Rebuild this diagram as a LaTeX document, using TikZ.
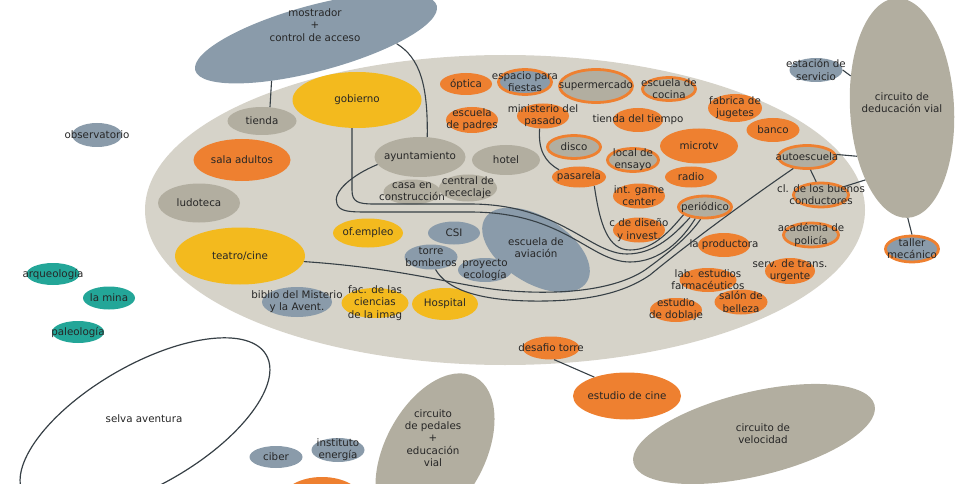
\documentclass[tikz,border=0pt]{standalone}
\usepackage{fontspec}
\setmainfont{DejaVu Sans}
\usetikzlibrary{shapes.geometric}

\definecolor{fondo}{RGB}{214,211,201}
\definecolor{gris}{RGB}{178,174,160}
\definecolor{azul}{RGB}{138,155,170}
\definecolor{naranja}{RGB}{238,128,48}
\definecolor{amarillo}{RGB}{243,186,30}
\definecolor{verde}{RGB}{35,166,152}
\definecolor{linea}{RGB}{55,64,70}
\definecolor{letra}{RGB}{38,38,38}

\tikzset{
  zona/.style={ellipse, inner sep=0pt},
  sz/.style 2 args={minimum width=#1, minimum height=#2},
  txt/.style={text=letra, font=\fontsize{10.3}{12.3}\selectfont, align=center, inner sep=0pt},
  tx/.style={label={[txt]center:#1}},
  gry/.style={zona, fill=gris},
  blu/.style={zona, fill=azul},
  orng/.style={zona, fill=naranja},
  yel/.style={zona, fill=amarillo},
  grn/.style={zona, fill=verde},
  rng/.style={zona, fill=gris, draw=naranja, line width=2.8pt},
  rngbl/.style={rng, fill=azul},
  con/.style={draw=linea, line width=1.1pt},
}

\begin{document}
\begin{tikzpicture}[x=1pt, y=-1pt]
    \useasboundingbox (0,0) rectangle (972,484);
    \clip (0,0) rectangle (972,484);

    % zona central
    \node[zona, fill=fondo, sz={720}{310}] (ciudad) at (505,210) {};

    % grandes zonas
    \node[gry, sz={104}{220}, rotate=3] (deducacion) at (902,108) {};
    \node[txt] (deducaciontxt) at (902,103) {circuito de\\deducación vial};
    \node[blu, sz={250}{66}, rotate=15] (mostrador) at (316,38) {};
    \node[txt] (mostradortxt) at (315,25) {mostrador\\+\\control de acceso};
    \node[gry, sz={248}{84}, rotate=13.5] (velocidad) at (754,434) {};
    \node[txt] (velocidadtxt) at (763,434) {circuito de\\velocidad};
    \node[gry, sz={170}{100}, rotate=62] (pedales) at (435,452) {};
    \node[txt] (pedalestxt) at (433,438) {circuito\\de pedales\\+\\educación\\vial};
    \node[zona, draw=linea, line width=1.2pt, fill=white, sz={280}{120}, rotate=30] (selva) at (145,425) {};
    \node[txt] (selvatxt) at (144,419) {selva aventura};
    \node[blu, sz={120}{66}, rotate=-32] (aviacion) at (536,250) {};
    \node[txt] (aviaciontxt) at (536,248) {escuela de\\aviación};

    % fuera
    \node[blu, sz={50}{24}, tx=observatorio] (obs) at (97,135) {};
    \node[grn, sz={53}{22}, tx=arqueología] (arqueo) at (53,274) {};
    \node[grn, sz={52}{23}, tx=la mina] (mina) at (109,298) {};
    \node[grn, sz={52}{22}, tx=paleología] (paleo) at (78,332) {};
    \node[blu, sz={53}{24}, tx={estación de\\servicio}] (estacion) at (816,70) {};
    \node[rngbl, sz={53}{26}, tx={taller\\mecánico}] (taller) at (912,249) {};
    \node[orng, sz={108}{47}, tx=estudio de cine] (cine) at (627,396) {};
    \node[blu, sz={53}{22}, tx=ciber] (ciber) at (276,457) {};
    \node[blu, sz={53}{24}, tx={instituto\\energía}] (energia) at (338,450) {};
    \node[orng, sz={80}{46}] (recorte) at (322,500) {};

    % izquierda
    \node[gry, sz={69}{28}, tx=tienda] (tienda) at (262,121) {};
    \node[yel, sz={129}{56}, tx=gobierno] (gobierno) at (357,100) {};
    \node[orng, sz={97}{42}, tx=sala adultos] (sala) at (242,160) {};
    \node[gry, sz={82}{39}, tx=ludoteca] (ludoteca) at (199,203) {};
    \node[yel, sz={130}{57}, tx=teatro/cine] (teatro) at (240,256) {};
    \node[yel, sz={67}{30}, tx={fac. de las\\ciencias\\de la imag}] (fac) at (375,303) {};
    \node[blu, sz={70}{30}, tx={biblio del Misterio\\y la Avent.}] (biblio) at (297,302) {};
    \node[yel, sz={66}{32}, tx=Hospital] (hospital) at (445,304) {};

    % centro
    \node[gry, sz={91}{40}, tx=ayuntamiento] (ayunt) at (420,157) {};
    \node[gry, sz={68}{30}, tx=hotel] (hotel) at (506,160) {};
    \node[gry, sz={57}{25}, tx={casa en\\construcción}] (casa) at (412,192) {};
    \node[gry, sz={58}{27}, tx={central de\\receclaje}] (central) at (468,188) {};
    \node[yel, sz={70}{29}, tx=of.empleo] (empleo) at (368,233) {};
    \node[blu, sz={52}{23}, tx=CSI] (csi) at (454,233) {};
    \node[blu, sz={53}{25}, tx={torre\\bomberos}] (torre) at (431,257) {};
    \node[blu, sz={54}{24}, tx={proyecto\\ecología}] (ecologia) at (485,270) {};

    % arriba
    \node[orng, sz={52}{22}, tx=óptica] (optica) at (466,84) {};
    \node[rngbl, sz={53}{25}, tx={espacio para\\fiestas}] (fiestas) at (525,82) {};
    \node[rng, sz={73}{33}, tx=supermercado] (super) at (596,86) {};
    \node[rng, sz={53}{23}, tx={escuela de\\cocina}] (cocina) at (669,89) {};
    \node[orng, sz={54}{28}, tx={fabrica de\\jugetes}] (jugetes) at (735,108) {};
    \node[orng, sz={52}{26}, tx={escuela\\de padres}] (padres) at (472,120) {};
    \node[orng, sz={52}{25}, tx={ministerio del\\pasado}] (ministerio) at (543,116) {};
    \node[orng, sz={50}{24}, tx=tienda del tiempo] (tiempo) at (638,120) {};
    \node[rng, sz={53}{23}, tx=disco] (disco) at (574,147) {};
    \node[orng, sz={78}{35}, tx=microtv] (microtv) at (699,146) {};
    \node[rng, sz={51}{23}, tx={local de\\ensayo}] (ensayo) at (633,160) {};
    \node[orng, sz={54}{21}, tx=pasarela] (pasarela) at (579,177) {};
    \node[orng, sz={52}{21}, tx=radio] (radio) at (691,177) {};
    \node[orng, sz={52}{25}, tx={int. game\\center}] (game) at (639,196) {};
    \node[rng, sz={53}{22}, tx=periódico] (periodico) at (705,207) {};
    \node[orng, sz={52}{25}, tx={c de diseño\\y invest.}] (diseno) at (639,230) {};

    % derecha
    \node[orng, sz={53}{24}, tx=banco] (banco) at (773,130) {};
    \node[rng, sz={57}{23}, tx=autoescuela] (autoesc) at (807,157) {};
    \node[rng, sz={55}{24}, tx={cl. de los buenos\\conductores}] (conduct) at (821,195) {};
    \node[rng, sz={55}{24}, tx={académia de\\policía}] (policia) at (811,235) {};
    \node[orng, sz={50}{26}, tx={serv. de trans.\\urgente}] (urgente) at (790,271) {};
    \node[orng, sz={52}{24}, tx=la productora] (productora) at (724,245) {};
    \node[orng, sz={57}{24}, tx={lab. estudios\\farmacéuticos}] (farma) at (708,280) {};
    \node[orng, sz={52}{24}, tx={estudio\\de doblaje}] (doblaje) at (676,310) {};
    \node[orng, sz={53}{25}, tx={salón de\\belleza}] (belleza) at (741,302) {};
    \node[orng, sz={57}{23}, tx=desafio torre] (desafio) at (551,348) {};

    % conexiones
    \draw[con] (tienda.60) -- (mostrador.209);
    \draw[con] (mostrador.-19) .. controls (420,58) and (428,85) .. (ayunt.70);
    \draw[con] (gobierno.260) -- (352,190) .. controls (352,202) and (358,204) .. (374,204)
        -- (470,204) .. controls (560,204) and (590,254) .. (627,254)
        .. controls (655,254) and (675,234) .. (periodico.215);
    \draw[con] (ayunt.190) .. controls (352,175) and (332,192) .. (337,204)
        .. controls (340,212) and (350,212) .. (370,212) -- (470,212)
        .. controls (565,212) and (590,262) .. (630,262)
        .. controls (660,262) and (682,240) .. (periodico.230);
    \draw[con] (ministerio.255) .. controls (538,150) and (545,162) .. (pasarela.160);
    \draw[con] (pasarela.-30) .. controls (600,225) and (608,250) .. (630,250)
        .. controls (655,250) and (672,228) .. (periodico.200);
    \draw[con] (teatro.-5) .. controls (400,268) and (455,285) .. (500,290)
        .. controls (560,296) and (615,290) .. (645,270)
        .. controls (670,252) and (690,235) .. (periodico.250);
    \draw[con] (torre.-70) .. controls (446,288) and (475,300) .. (530,301)
        .. controls (590,302) and (625,292) .. (650,275)
        .. controls (680,250) and (740,205) .. (autoesc.220);
    \draw[con] (autoesc.5) -- (deducacion.224);
    \draw[con] (autoesc.-75) -- (conduct.110);
    \draw[con] (conduct.20) -- (deducacion.240);
    \draw[con] (estacion.east) -- (deducacion.145);
    \draw[con] (deducacion.south) -- (taller.north);
    \draw[con] (desafio.-75) -- (cine.150);
\end{tikzpicture}
\end{document}
